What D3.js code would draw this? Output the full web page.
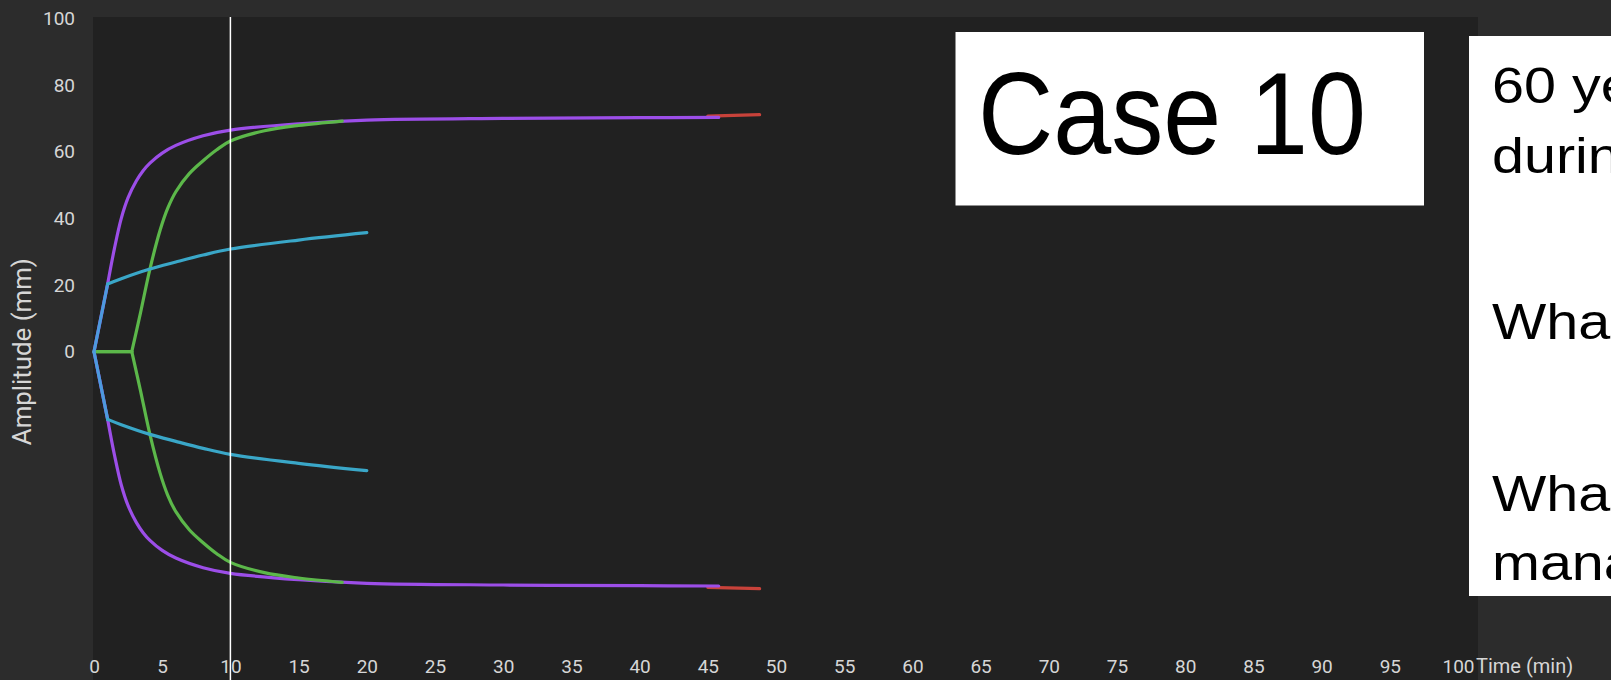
<!DOCTYPE html>
<html><head><meta charset="utf-8">
<script src="https://cdn.jsdelivr.net/npm/d3@7"></script>
<style>
html,body{margin:0;padding:0;background:#2c2c2c;overflow:hidden;}
svg{display:block;}
</style></head><body>
<svg id="chart" width="1611" height="680"></svg>
<script>
// ---- data ----
const xTickValues = [0,5,10,15,20,25,30,35,40,45,50,55,60,65,70,75,80,85,90,95,100];
const yTickValues = [0,20,40,60,80,100];
const cursorTime = 10;
// upper half of each tracing (time min, amplitude mm); mirrored below zero
const blueRise    = [[0,0],[1.0,20.3]];
const blueCurve   = [[1.0,20.3],[2,21.9],[4.1,24.8],[6,26.9],[8,29.0],[10,30.8],[15,33.5],[20,35.7]];
const purpleRise  = [[0,0],[1.0,20.3]];
const purpleCurve = [[1.0,20.3],[1.5,31],[2.0,40],[2.5,46.2],[3.1,51.2],[3.6,54.3],[4.1,56.6],[5,59.6],[6,61.9],[8,64.8],[10,66.5],[15,68.4],[20,69.5],[30,70.0],[40,70.2],[45.8,70.3]];
const greenFlat   = [[0,0],[2.77,0]];
const greenCurve  = [[2.77,0],[3.4,11.5],[4.1,24.8],[4.85,36.5],[5.4,43],[6.0,48],[7.0,53.5],[8.0,57.3],[9.0,60.6],[10,63.2],[12.5,66.3],[15,67.9],[18.2,69.2]];
const redTail     = [[45,70.7],[48.8,71.1]];
const caseTitle = "Case 10";
const noteLines = ["60 year old man bleeding", "during cardiac surgery", "What does the TEG show?", "What is the appropriate", "management?"];

// ---- layout ----
const svg = d3.select("#chart");
const x = d3.scaleLinear().domain([0,100]).range([94,1458]);
const y = d3.scaleLinear().domain([-100,100]).range([685,18.4]);
const labelFont = "Roboto, 'Liberation Sans', sans-serif";

svg.append("rect").attr("x",0).attr("y",0).attr("width",1611).attr("height",680).attr("fill","#2c2c2c");
svg.append("rect").attr("x",93).attr("y",17).attr("width",1478-93).attr("height",680-17).attr("fill","#212121");

// axes
const xAxis = d3.axisBottom(x).tickValues(xTickValues).tickSize(0).tickPadding(0).tickFormat(d3.format("d"));
const gx = svg.append("g").attr("transform","translate(0,659)").call(xAxis);
gx.select(".domain").remove();
gx.selectAll("text").attr("fill","#d6d6d6").style("font-family",labelFont).style("font-size","19px").attr("dy","0.71em");

const yAxis = d3.axisLeft(y).tickValues(yTickValues).tickSize(0).tickPadding(0).tickFormat(d3.format("d"));
const gy = svg.append("g").attr("transform","translate(75,0)").call(yAxis);
gy.select(".domain").remove();
gy.selectAll("text").attr("fill","#d6d6d6").style("font-family",labelFont).style("font-size","19px");

svg.append("text").attr("x",1476).attr("y",673).text("Time (min)")
  .attr("fill","#d6d6d6").style("font-family",labelFont).style("font-size","20px");
svg.append("text").attr("transform",`translate(31,${y(0)}) rotate(-90)`).attr("text-anchor","middle")
  .text("Amplitude (mm)").attr("fill","#d6d6d6")
  .attr("textLength",187).attr("lengthAdjust","spacingAndGlyphs")
  .style("font-family",labelFont).style("font-size","25px");

// tracings
const lin = d3.line().x(d=>x(d[0])).y(d=>y(d[1])).curve(d3.curveLinear);
const smooth = d3.line().x(d=>x(d[0])).y(d=>y(d[1])).curve(d3.curveCatmullRom.alpha(0.5));
const mirror = arr => arr.map(([t,v]) => [t,-v]);
function trace(data, gen, color){
  [data, mirror(data)].forEach(d => {
    svg.append("path").attr("d",gen(d)).attr("fill","none").attr("stroke",color)
      .attr("stroke-width",3.2).attr("stroke-linejoin","round").attr("stroke-linecap","round");
  });
}
trace(redTail, smooth, "#c8423a");
trace(purpleRise, lin, "#9c4ee8");
trace(purpleCurve, smooth, "#9c4ee8");
trace(greenFlat, lin, "#5cb84a");
trace(greenCurve, smooth, "#5cb84a");
trace(blueRise, lin, "#4c9ade");
trace(blueCurve, smooth, "#3aa7c8");

// cursor
svg.append("line").attr("x1",x(cursorTime)).attr("x2",x(cursorTime)).attr("y1",17).attr("y2",680)
  .attr("stroke","#ffffff").attr("stroke-width",1.5);

// overlay boxes
svg.append("rect").attr("x",955.5).attr("y",32).attr("width",468.5).attr("height",173.5).attr("fill","#ffffff");
svg.append("text").attr("x",978).attr("y",154).text(caseTitle).attr("fill","#000")
  .attr("textLength",388).attr("lengthAdjust","spacingAndGlyphs")
  .style("font-family","'Liberation Sans', Arial, sans-serif").style("font-size","116px");

svg.append("rect").attr("x",1469).attr("y",36).attr("width",200).attr("height",560).attr("fill","#ffffff");
const baselines = [102.7,172.6,339,510.6,580.5];
const notes = svg.append("g").attr("transform","translate(1492,0) scale(1.15,1)");
noteLines.forEach((s,i) => {
  notes.append("text").attr("x",0).attr("y",baselines[i]).text(s).attr("fill","#000")
    .style("font-family","'Liberation Sans', Arial, sans-serif").style("font-size","50px");
});
</script>
</body></html>
